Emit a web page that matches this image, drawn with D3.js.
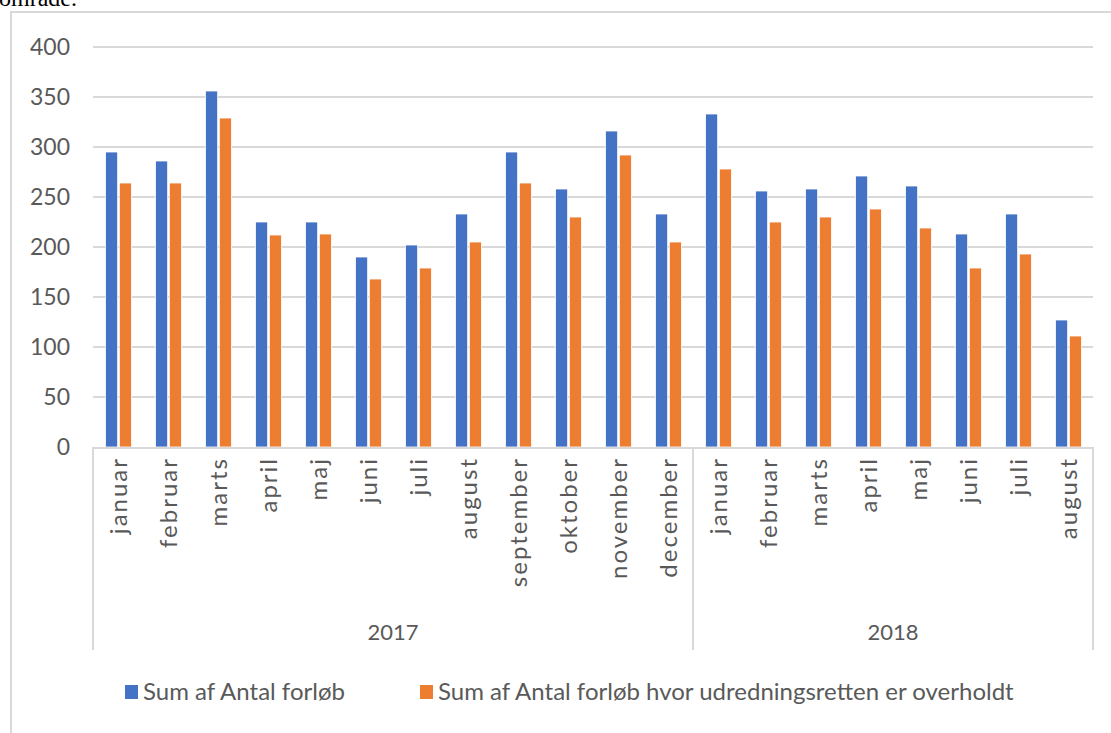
<!DOCTYPE html>
<html>
<head>
<meta charset="utf-8">
<script src="https://cdn.jsdelivr.net/npm/d3@7"></script>
<style>
  body { margin: 0; background: #fff; }
  svg { display: block; }
  text { font-family: Lato, "Open Sans", sans-serif; fill: #595959; }
</style>
</head>
<body>
<script>
  // months per year, in chart order
  const years = ["2017", "2018"];
  const months2017 = ["januar", "februar", "marts", "april", "maj", "juni", "juli",
                      "august", "september", "oktober", "november", "december"];
  const months2018 = ["januar", "februar", "marts", "april", "maj", "juni", "juli", "august"];
  const seriesNames = ["Sum af Antal forløb",
                       "Sum af Antal forløb hvor udredningsretten er overholdt"];
  const totalForloeb = [295, 286, 356, 225, 225, 190, 202, 233, 295, 258, 316, 233,
                        333, 256, 258, 271, 261, 213, 233, 127];
  const overholdt = [264, 264, 329, 212, 213, 168, 179, 205, 264, 230, 292, 205,
                     278, 225, 230, 238, 219, 179, 193, 111];
  const yTicks = [0, 50, 100, 150, 200, 250, 300, 350, 400];
  const colors = ["#4472C4", "#ED7D31"];

  const W = 1111, H = 733;
  const plotLeft = 93, plotRight = 1093, plotTop = 47, plotBottom = 447;

  const cats = months2017.map(m => ({ year: "2017", month: m }))
    .concat(months2018.map(m => ({ year: "2018", month: m })));

  const svg = d3.select("body").append("svg")
    .attr("width", W).attr("height", H);

  // cut-off text from the page above the chart
  svg.append("text")
    .attr("x", -1).attr("y", 6)
    .style("font-family", "'Liberation Serif', serif")
    .style("font-size", "24px")
    .style("fill", "#000")
    .text("område.");

  // chart frame
  svg.append("path")
    .attr("d", `M11,${H} V12 H${W}`)
    .attr("fill", "none")
    .attr("stroke", "#d9d9d9")
    .attr("stroke-width", 2);

  const y = d3.scaleLinear().domain([0, 400]).range([plotBottom, plotTop]);
  const x0 = d3.scaleBand().domain(d3.range(cats.length)).range([plotLeft, plotRight]);
  const x1 = d3.scaleBand().domain([0, 1]).range([12.5, 38.5]).paddingInner(0.12);

  // gridlines
  svg.append("g").selectAll("line")
    .data(yTicks.filter(t => t > 0))
    .join("line")
    .attr("x1", plotLeft).attr("x2", plotRight)
    .attr("y1", d => y(d)).attr("y2", d => y(d))
    .attr("stroke", "#d9d9d9").attr("stroke-width", 2);

  // y axis labels
  const yAxis = d3.axisLeft(y).tickValues(yTicks).tickSize(0).tickPadding(23);
  const gy = svg.append("g").attr("transform", `translate(${plotLeft},0)`).call(yAxis);
  gy.select(".domain").remove();
  gy.selectAll("text")
    .style("font-size", "23px")
    .style("font-family", "Lato, 'Open Sans', sans-serif")
    .attr("fill", "#595959");

  // bars
  const data = cats.map((c, i) => ({ i, vals: [totalForloeb[i], overholdt[i]] }));
  svg.append("g").selectAll("g")
    .data(data)
    .join("g")
    .attr("transform", d => `translate(${x0(d.i)},0)`)
    .selectAll("rect")
    .data(d => d.vals.map((v, k) => ({ k, v })))
    .join("rect")
    .attr("x", d => x1(d.k))
    .attr("width", x1.bandwidth())
    .attr("y", d => y(d.v))
    .attr("height", d => y(0) - y(d.v))
    .attr("fill", d => colors[d.k])
    .attr("stroke", "#fff")
    .attr("stroke-width", 0.8);

  // category axis: baseline and group dividers
  const divBottom = 650;
  svg.append("line")
    .attr("x1", plotLeft).attr("x2", plotRight)
    .attr("y1", plotBottom + 1).attr("y2", plotBottom + 1)
    .attr("stroke", "#d9d9d9").attr("stroke-width", 2);
  const splits = [0, months2017.length, cats.length];
  const splitX = k => splits[k] === cats.length ? plotRight : x0(splits[k]);
  svg.append("g").selectAll("line")
    .data(d3.range(splits.length))
    .join("line")
    .attr("x1", splitX).attr("x2", splitX)
    .attr("y1", plotBottom).attr("y2", divBottom)
    .attr("stroke", "#d9d9d9").attr("stroke-width", 2);

  // month labels (rotated)
  svg.append("g").selectAll("text")
    .data(cats)
    .join("text")
    .attr("transform", (d, i) => `translate(${x0(i) + x0.bandwidth() / 2 + 9},${plotBottom + 10}) rotate(-90)`)
    .attr("text-anchor", "end")
    .style("font-size", "24px")
    .style("letter-spacing", "2px")
    .text(d => d.month);

  // year labels
  svg.append("g").selectAll("text")
    .data(years)
    .join("text")
    .attr("x", (d, k) => (splitX(k) + splitX(k + 1)) / 2)
    .attr("y", 640)
    .attr("text-anchor", "middle")
    .style("font-size", "22px")
    .text(d => d);

  // legend
  const legendX = [125, 420];
  const lg = svg.append("g").selectAll("g")
    .data(seriesNames)
    .join("g")
    .attr("transform", (d, k) => `translate(${legendX[k]},685)`);
  lg.append("rect")
    .attr("x", 0).attr("y", 0).attr("width", 13).attr("height", 14)
    .attr("fill", (d, k) => colors[k]);
  lg.append("text")
    .attr("x", 18).attr("y", 15)
    .style("font-size", "24px")
    .text(d => d);
</script>
</body>
</html>
